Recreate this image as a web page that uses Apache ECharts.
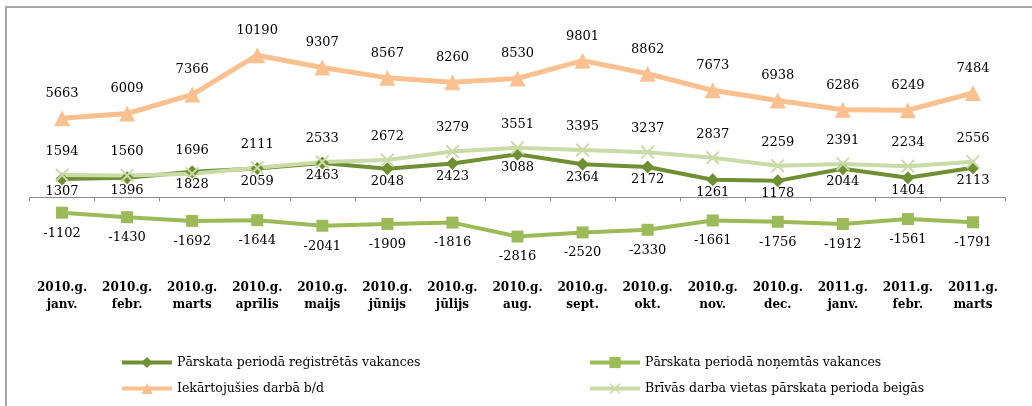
<!DOCTYPE html>
<html>
<head>
<meta charset="utf-8">
<script src="https://cdn.jsdelivr.net/npm/echarts@6/dist/echarts.min.js"></script>
<style>
  html, body { margin: 0; padding: 0; background: #fff; }
  #chart { width: 1032px; height: 406px; }
</style>
</head>
<body>
<div id="chart"></div>
<script>
var months = ['2010.g.\njanv.', '2010.g.\nfebr.', '2010.g.\nmarts', '2010.g.\naprīlis', '2010.g.\nmaijs',
    '2010.g.\njūnijs', '2010.g.\njūlijs', '2010.g.\naug.', '2010.g.\nsept.', '2010.g.\nokt.',
    '2010.g.\nnov.', '2010.g.\ndec.', '2011.g.\njanv.', '2011.g.\nfebr.', '2011.g.\nmarts'];
var registered = [1307, 1396, 1828, 2059, 2463, 2048, 2423, 3088, 2364, 2172, 1261, 1178, 2044, 1404, 2113];
var removed = [-1102, -1430, -1692, -1644, -2041, -1909, -1816, -2816, -2520, -2330, -1661, -1756, -1912, -1561, -1791];
var employed = [5663, 6009, 7366, 10190, 9307, 8567, 8260, 8530, 9801, 8862, 7673, 6938, 6286, 6249, 7484];
var freeJobs = [1594, 1560, 1696, 2111, 2533, 2672, 3279, 3551, 3395, 3237, 2837, 2259, 2391, 2234, 2556];

var names = ['Pārskata periodā reģistrētās vakances', 'Pārskata periodā noņemtās vakances',
    'Iekārtojušies darbā b/d', 'Brīvās darba vietas pārskata perioda beigās'];

var serif = '"DejaVu Serif", "Liberation Serif", serif';
var crossPath = 'path://M0,1L1,0L5,4L9,0L10,1L6,5L10,9L9,10L5,6L1,10L0,9L4,5Z';

function lbl(pos, dist) {
    return { show: true, position: pos, distance: dist, color: '#000', fontFamily: serif, fontSize: 13 };
}

var myChart = echarts.init(document.getElementById('chart'));
var option = {
    animation: false,
    backgroundColor: '#fff',
    graphic: [{
        type: 'rect',
        shape: { x: 6, y: 7, width: 1040, height: 420 },
        style: { fill: 'none', stroke: '#a6a6a6', lineWidth: 2 },
        silent: true
    }],
    grid: { left: 29.5, right: 26.5, top: 30, height: 237 },
    legend: [{
        orient: 'vertical', left: 115, top: 351, itemWidth: 50, itemHeight: 14, itemGap: 13,
        textStyle: { fontFamily: serif, fontSize: 12.5, color: '#000' },
        lineStyle: { width: 4 },
        data: [names[0], names[2]]
    }, {
        orient: 'vertical', left: 583, top: 351, itemWidth: 50, itemHeight: 14, itemGap: 13,
        textStyle: { fontFamily: serif, fontSize: 12.5, color: '#000' },
        lineStyle: { width: 4 },
        data: [names[1], names[3]]
    }],
    xAxis: [{
        type: 'category', data: months,
        axisLine: { onZero: true, lineStyle: { color: '#8c8c8c', width: 1 } },
        axisTick: { show: true, length: 4, lineStyle: { color: '#8c8c8c' } },
        axisLabel: { show: false }
    }, {
        type: 'category', data: months, position: 'bottom',
        axisLine: { show: false, onZero: false },
        axisTick: { show: false },
        axisLabel: { interval: 0, margin: 12, color: '#000', fontFamily: serif, fontSize: 12, fontWeight: 'bold', lineHeight: 17 }
    }],
    yAxis: { type: 'value', min: -5000, max: 12000, show: false, splitLine: { show: false } },
    series: [{
        name: names[0], type: 'line', data: registered,
        symbol: 'diamond', symbolSize: 13,
        itemStyle: { color: '#6f8f33' },
        lineStyle: { color: '#6f8f33', width: 4 },
        label: lbl('bottom', 0)
    }, {
        name: names[1], type: 'line', data: removed,
        symbol: 'rect', symbolSize: 12,
        itemStyle: { color: '#9bbb59' },
        lineStyle: { color: '#9bbb59', width: 4 },
        label: lbl('bottom', 8)
    }, {
        name: names[2], type: 'line', data: employed,
        symbol: 'triangle', symbolSize: 16,
        itemStyle: { color: '#fac090' },
        lineStyle: { color: '#fac090', width: 5 },
        label: lbl('top', 10)
    }, {
        name: names[3], type: 'line', data: freeJobs,
        symbol: crossPath, symbolSize: 14,
        itemStyle: { color: '#c9dca8' },
        lineStyle: { color: '#c9dca8', width: 4 },
        label: lbl('top', 10)
    }]
};
myChart.setOption(option);
</script>
</body>
</html>
